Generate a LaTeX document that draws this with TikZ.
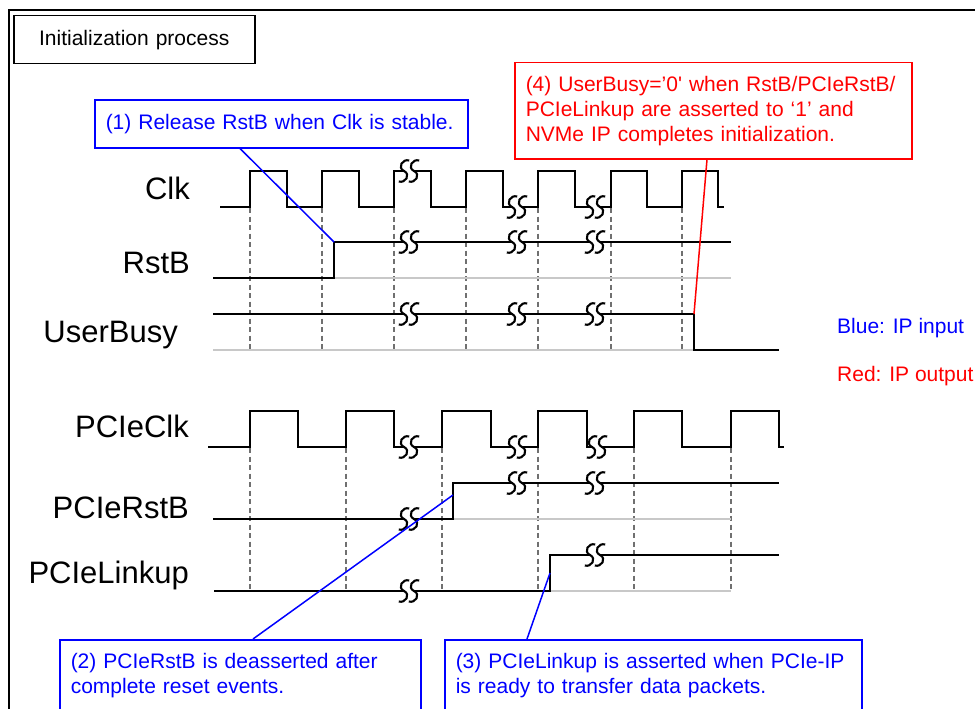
\documentclass[tikz,border=0pt]{standalone}
\usepackage{fontspec}
\setmainfont{Liberation Sans}
\usetikzlibrary{calc}
\definecolor{dashgray}{HTML}{707070}
\definecolor{basegray}{HTML}{C8C8C8}
\tikzset{
  txt/.style={font=\fontsize{21}{25}\selectfont},
  siglabel/.style={font=\fontsize{31}{36}\selectfont, anchor=base east, inner sep=0pt},
  boxnode/.style={txt, draw, line width=1.5pt, anchor=north west, inner xsep=11pt, inner ysep=0pt, align=left},
  wave/.style={line width=1.8pt, line join=miter},
  grid/.style={dashgray, line width=1.4pt, dash pattern=on 5pt off 3.5pt},
  baseline/.style={basegray, line width=1.2pt},
  conn/.style={line width=1.5pt},
  brk/.pic={
    \fill[white] (-4,-3) rectangle (4,3);
    \draw[line width=2.1pt] (0.2,-10.5) .. controls (-6.5,-12.5) and (-12,-3.5) .. (-5,0) .. controls (2,3.5) and (-3.5,12.5) .. (-10.2,10.5);
    \draw[line width=2.1pt] (10.2,-10.5) .. controls (3.5,-12.5) and (-2,-3.5) .. (5,0) .. controls (12,3.5) and (6.5,12.5) .. (-0.2,10.5);
  }
}
\begin{document}
\begin{tikzpicture}[x=1pt,y=-1pt]
\clip (0,0) rectangle (975,709);
\fill[white] (0,0) rectangle (975,709);
% outer frame
\draw[line width=2.2pt] (9,720) -- (9,10) -- (990,10);

% title
\node[boxnode, minimum width=241pt, minimum height=48pt, text width=219pt, align=center] (title) at (13,15) {Initialization process};

% signal labels
\node[siglabel] (lclk) at (190,199) {Clk};
\node[siglabel] (lrst) at (190,273) {RstB};
\node[siglabel] (lbusy) at (178,342) {UserBusy};
\node[siglabel] (lpclk) at (189,437) {PCIeClk};
\node[siglabel] (lprst) at (189,518) {PCIeRstB};
\node[siglabel] (llink) at (189,583) {PCIeLinkup};

% legend
\node[txt, blue, anchor=base west, inner sep=0pt] (legblue) at (837,333) {Blue: IP input};
\node[txt, red, anchor=base west, inner sep=0pt] (legred) at (837,381) {Red: IP output};

% dashed grid lines (upper group)
\foreach \x in {250,322,394,466,538,611,682}
  \draw[grid] (\x,208) -- (\x,350);
% dashed grid lines (PCIe group)
\foreach \x in {250,346,442,538,634,731}
  \draw[grid] (\x,448) -- (\x,591);

% gray baselines
\draw[baseline] (334,278) -- (731,278);
\draw[baseline] (213,350) -- (694,350);
\draw[baseline] (453,519) -- (731,519);
\draw[baseline] (550,591) -- (731,591);

% Clk
\draw[wave] (220,207) -- (250,207) -- (250,171) -- (287,171) -- (287,207) -- (322,207) -- (322,171) -- (359,171) -- (359,207) -- (394,207) -- (394,171) -- (431,171) -- (431,207) -- (466,207) -- (466,171) -- (503,171) -- (503,207) -- (538,207) -- (538,171) -- (575,171) -- (575,207) -- (611,207) -- (611,171) -- (647,171) -- (647,207) -- (682,207) -- (682,171) -- (718,171) -- (718,207) -- (724,207);
\pic at (409,171) {brk};
\pic at (517,207) {brk};
\pic at (595,207) {brk};

% RstB
\draw[wave] (213,278) -- (334,278) -- (334,242) -- (731,242);
\pic at (409,242) {brk};
\pic at (517,242) {brk};
\pic at (595,242) {brk};

% UserBusy
\draw[wave] (213,314) -- (694,314) -- (694,350) -- (779,350);
\pic at (409,314) {brk};
\pic at (517,314) {brk};
\pic at (595,314) {brk};

% PCIeClk
\draw[wave] (208,447) -- (250,447) -- (250,411) -- (298,411) -- (298,447) -- (346,447) -- (346,411) -- (394,411) -- (394,447) -- (442,447) -- (442,411) -- (491,411) -- (491,447) -- (538,447) -- (538,411) -- (587,411) -- (587,447) -- (634,447) -- (634,411) -- (682,411) -- (682,447) -- (731,447) -- (731,411) -- (779,411) -- (779,447) -- (784,447);
\pic at (409,447) {brk};
\pic at (517,447) {brk};
\pic at (597,447) {brk};

% PCIeRstB
\draw[wave] (213,519) -- (453,519) -- (453,483) -- (779,483);
\pic at (409,519) {brk};
\pic at (517,483) {brk};
\pic at (595,483) {brk};

% PCIeLinkup
\draw[wave] (214,591) -- (550,591) -- (550,555) -- (779,555);
\pic at (409,591) {brk};
\pic at (595,555) {brk};

% edge points
\coordinate (erst) at (334,242);
\coordinate (ebusy) at (694,314);
\coordinate (eprst) at (453,495);
\coordinate (elink) at (550,573);

% annotation boxes
\node[boxnode, blue, minimum width=373pt, minimum height=48pt, text width=351pt] (b1) at (94,99) {(1) Release RstB when Clk is stable.};
\node[boxnode, red, minimum width=397pt, minimum height=96pt, text width=375pt] (b4) at (514,62) {(4) UserBusy=’0\textquotesingle{} when RstB/PCIeRstB/\\PCIeLinkup are asserted to ‘1’ and\\NVMe IP completes initialization.};
\node[boxnode, blue, minimum width=361pt, minimum height=72pt, text width=339pt] (b2) at (59,639) {(2) PCIeRstB is deasserted after\\complete reset events.};
\node[boxnode, blue, minimum width=417pt, minimum height=72pt, text width=395pt] (b3) at (444,639) {(3) PCIeLinkup is asserted when PCIe-IP\\is ready to transfer data packets.};

% connectors
\draw[conn, blue] ($(b1.south west)+(146,0)$) -- (erst);
\draw[conn, red] ($(b4.south west)+(193,0)$) -- (ebusy);
\draw[conn, blue] ($(b2.north west)+(194,0)$) -- (eprst);
\draw[conn, blue] ($(b3.north west)+(83,0)$) -- (elink);
\end{tikzpicture}
\end{document}
